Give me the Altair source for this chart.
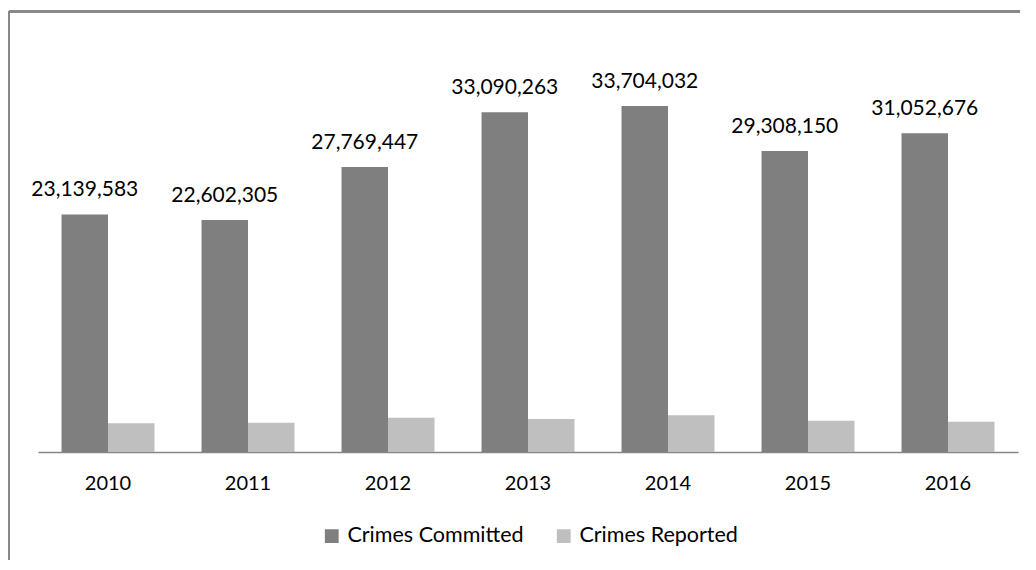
import altair as alt
import pandas as pd

years = ["2010", "2011", "2012", "2013", "2014", "2015", "2016"]
committed = [23139583, 22602305, 27769447, 33090263, 33704032, 29308150, 31052676]
reported = [2800000, 2860000, 3340000, 3220000, 3580000, 3050000, 2950000]
series = ["Crimes Committed", "Crimes Reported"]
colors = ["#7F7F7F", "#BFBFBF"]

rows = []
for y, c, r in zip(years, committed, reported):
    rows.append({"year": y, "series": series[0], "value": c})
    rows.append({"year": y, "series": series[1], "value": r})
df = pd.DataFrame(rows)

FONT = "Lato"

x_enc = alt.X("year:N", sort=years, title=None,
              scale=alt.Scale(paddingInner=0.336, paddingOuter=0.168),
              axis=alt.Axis(labelAngle=0, labelFontSize=20, labelColor="#000000",
                            labelFont=FONT, tickSize=0, ticks=False, labelPadding=21,
                            domainColor="#868686", domainWidth=1.5, grid=False))
xo_enc = alt.XOffset("series:N", sort=series, scale=alt.Scale(paddingInner=0, paddingOuter=0))
y_enc = alt.Y("value:Q", title=None, scale=alt.Scale(domain=[0, 41300000], nice=False),
              axis=None)

bars = alt.Chart(df).mark_bar().encode(
    x=x_enc,
    xOffset=xo_enc,
    y=y_enc,
    color=alt.Color("series:N", sort=series,
                    scale=alt.Scale(domain=series, range=colors),
                    legend=alt.Legend(title=None, orient="none", direction="horizontal",
                                      legendX=283, legendY=497,
                                      symbolType="square", symbolSize=190,
                                      symbolStrokeWidth=0, symbolOpacity=1,
                                      labelFontSize=21.5, labelFont=FONT, labelLimit=0,
                                      labelColor="#000000", labelOffset=5,
                                      columnPadding=29, padding=0)),
)

labels = alt.Chart(df).transform_filter(
    alt.datum.series == series[0]
).mark_text(fontSize=21, font=FONT, color="#000000", baseline="alphabetic", dy=-18).encode(
    x=alt.X("year:N", sort=years),
    xOffset=alt.XOffset("series:N", sort=series),
    y=alt.Y("value:Q"),
    text=alt.Text("value:Q", format=",d"),
)

frame_top = alt.Chart(df).mark_rule(color="#898989", strokeWidth=1.5).encode(
    x=alt.value(-29), x2=alt.value(1100), y=alt.value(-16.5)
)
frame_left = alt.Chart(df).mark_rule(color="#898989", strokeWidth=1.5).encode(
    x=alt.value(-29), y=alt.value(-16.5), y2=alt.value(700)
)

chart = alt.layer(bars, labels, frame_top, frame_left).properties(
    width=980, height=424,
    background="#FFFFFF",
    padding={"left": 30, "top": 20, "right": 2, "bottom": 108},
    autosize=alt.AutoSizeParams(type="none"),
).configure_view(stroke=None, strokeWidth=0)

chart.save("out.html", embed_options={"renderer": "svg", "actions": False})
